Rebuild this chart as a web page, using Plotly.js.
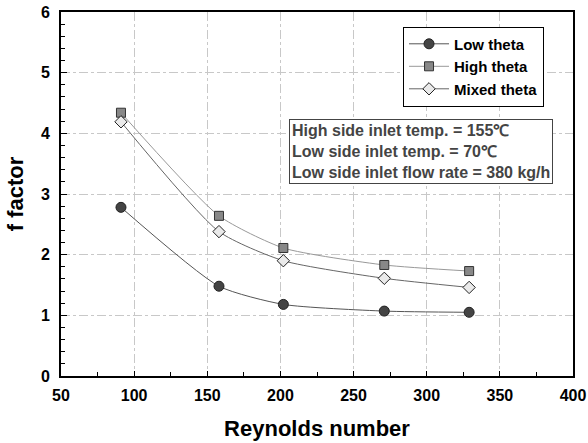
<!DOCTYPE html>
<html><head><meta charset="utf-8">
<script src="https://cdn.plot.ly/plotly-3.0.1.min.js"></script>
<style>html,body{margin:0;padding:0;background:#fff}</style>
</head><body><div id="chart" style="width:588px;height:443px"></div>
<script>
const reynolds = [91, 158, 202, 271, 329];
const lowTheta = [2.78, 1.48, 1.18, 1.07, 1.05];
const highTheta = [4.34, 2.64, 2.11, 1.83, 1.73];
const mixedTheta = [4.19, 2.38, 1.90, 1.61, 1.46];
const seriesNames = ["Low theta", "High theta", "Mixed theta"];
const noteLines = ["High side inlet temp. = 155℃", "Low side inlet temp. = 70℃", "Low side inlet flow rate = 380 kg/h"];

const font = "Liberation Sans, Arial, sans-serif";
const sm = 0.6;
const traces = [
  {x: reynolds, y: lowTheta, name: seriesNames[0], mode: "lines+markers",
   line: {shape: "spline", smoothing: sm, color: "#555", width: 1},
   marker: {symbol: "circle", size: 10, color: "#444", line: {color: "#222", width: 1}}},
  {x: reynolds, y: highTheta, name: seriesNames[1], mode: "lines+markers",
   line: {shape: "spline", smoothing: sm, color: "#999", width: 1},
   marker: {symbol: "square", size: 9, color: "#888", line: {color: "#333", width: 1}}},
  {x: reynolds, y: mixedTheta, name: seriesNames[2], mode: "lines+markers",
   line: {shape: "spline", smoothing: sm, color: "#666", width: 1},
   marker: {symbol: "diamond", size: 9.5, color: "#eaeaea", line: {color: "#222", width: 1}}}
];
const layout = {
  width: 588, height: 443,
  margin: {l: 61, r: 15, t: 12, b: 67},
  paper_bgcolor: "#fff", plot_bgcolor: "#fff",
  font: {family: font, color: "#000"},
  showlegend: true,
  legend: {x: 0.668, y: 0.96, xanchor: "left", yanchor: "top",
    bordercolor: "#000", borderwidth: 1, bgcolor: "#fff",
    font: {family: font, size: 15, color: "#000", weight: "bold"},
    tracegroupgap: 0, itemwidth: 40},
  xaxis: {range: [50, 400], dtick: 50, tick0: 50, showline: true, mirror: true,
    linecolor: "#000", linewidth: 2, ticks: "inside", ticklen: 5, tickcolor: "#000",
    minor: {dtick: 25, ticks: "inside", ticklen: 4, tickcolor: "#000", showgrid: false},
    showgrid: true, gridcolor: "#c8c8c8", griddash: "dashdot", gridwidth: 1, zeroline: false,
    tickfont: {family: font, size: 16, weight: "bold"}, ticklabelstandoff: 4,
    title: {text: "Reynolds number", font: {family: font, size: 22, weight: "bold"}, standoff: 17}},
  yaxis: {range: [0, 6], dtick: 1, showline: true, mirror: true,
    linecolor: "#000", linewidth: 2, ticks: "inside", ticklen: 6, tickcolor: "#000",
    minor: {dtick: 0.2, ticks: "inside", ticklen: 4, tickcolor: "#000", showgrid: false},
    showgrid: true, gridcolor: "#c8c8c8", griddash: "dashdot", gridwidth: 1, zeroline: false,
    tickfont: {family: font, size: 16, weight: "bold"}, ticklabelstandoff: 6,
    title: {text: "f factor", font: {family: font, size: 22, weight: "bold"}, standoff: 11}},
  annotations: [{
    xref: "paper", yref: "paper", x: 0.446, y: 0.707, xanchor: "left", yanchor: "top",
    text: noteLines.join("<br>"), align: "left", showarrow: false,
    font: {family: font, size: 16, color: "#444", weight: "bold"},
    bordercolor: "#444", borderwidth: 1, borderpad: 2, bgcolor: "#fff"
  }]
};
Plotly.newPlot("chart", traces, layout, {displayModeBar: false, staticPlot: true});
</script></body></html>
